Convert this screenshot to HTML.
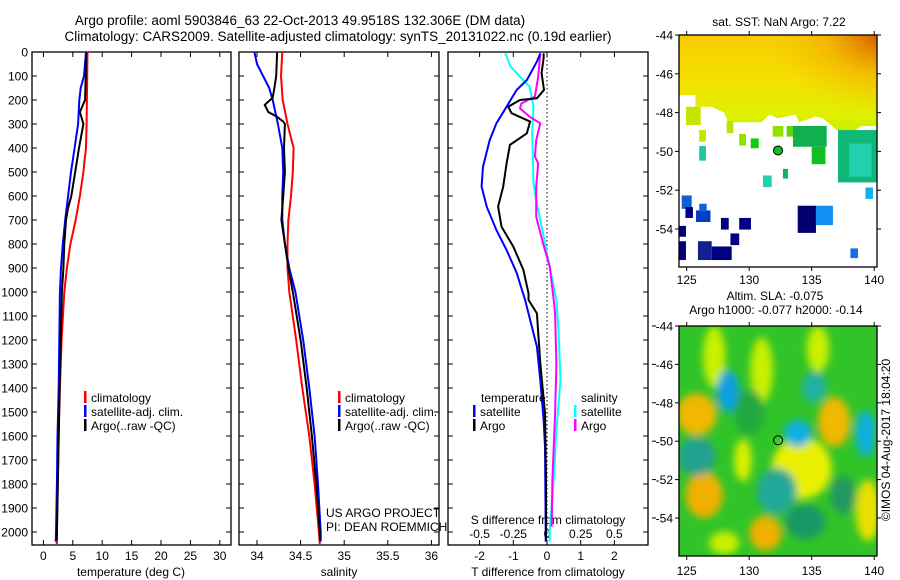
<!DOCTYPE html>
<html><head><meta charset="utf-8"><style>
html,body{margin:0;padding:0;background:#fff}
svg{display:block}
text{font-family:"Liberation Sans",sans-serif;font-size:12px;fill:#000}
</style></head><body>
<svg id="fig" width="900" height="580" viewBox="0 0 900 580" xmlns="http://www.w3.org/2000/svg">
<defs>
<clipPath id="clipP1"><rect x="32" y="52" width="199" height="493"/></clipPath>
<clipPath id="clipP2"><rect x="239" y="52" width="200" height="493"/></clipPath>
<clipPath id="clipP3"><rect x="448" y="52" width="200" height="493"/></clipPath>
<clipPath id="clipM1"><rect x="679" y="35" width="198" height="232"/></clipPath>
<clipPath id="clipM2"><rect x="679" y="326" width="198" height="230"/></clipPath>
<linearGradient id="sstGrad" x1="0" y1="0" x2="0" y2="1">
<stop offset="0" stop-color="#f8c800"/><stop offset="0.45" stop-color="#f4e000"/><stop offset="0.8" stop-color="#e0f000"/><stop offset="1" stop-color="#c8f000"/></linearGradient>
<radialGradient id="orangeCorner" cx="1" cy="0" r="0.9"><stop offset="0" stop-color="#d85000" stop-opacity="0.95"/><stop offset="0.5" stop-color="#f0a000" stop-opacity="0.5"/><stop offset="1" stop-color="#f0c000" stop-opacity="0"/></radialGradient>
<filter id="blur" x="-50%" y="-50%" width="200%" height="200%"><feGaussianBlur stdDeviation="4"/></filter>
</defs>
<text x="300" y="25" text-anchor="middle" style="font-size:13.5px">Argo profile: aoml 5903846_63 22-Oct-2013 49.9518S 132.306E (DM data)</text>
<text x="338" y="41" text-anchor="middle" style="font-size:13.5px">Climatology: CARS2009. Satellite-adjusted climatology: synTS_20131022.nc (0.19d earlier)</text>
<g id="layer"></g>
</svg>
<script>
// ---- data ----
const depthTicks=[0,100,200,300,400,500,600,700,800,900,1000,1100,1200,1300,1400,1500,1600,1700,1800,1900,2000];
const tempTicks=[0,5,10,15,20,25,30];
const salTicks=[34,34.5,35,35.5,36];
const dTTicks=[-2,-1,0,1,2];
const dSTicks=[-0.5,-0.25,0,0.25,0.5];
const dSTickLabels=["-0.5","-0.25","0","0.25","0.5"];

const tClimDepth=[0,100,200,300,400,450,500,600,700,800,900,1000,1200,1400,1600,1800,2000,2050];
const tClimVal=[7.5,7.45,7.4,7.35,7.25,7.0,6.8,6.2,5.5,4.6,4.0,3.55,3.1,2.8,2.6,2.45,2.3,2.28];
const tSatDepth=[0,100,150,200,300,400,500,600,700,800,900,1000,1200,1400,1600,1800,2000,2040];
const tSatVal=[7.25,6.9,6.35,6.1,5.9,5.3,4.7,4.2,3.7,3.3,3.0,2.8,2.7,2.6,2.4,2.3,2.15,2.1];
const tArgoDepth=[3,100,200,210,250,300,400,500,600,650,700,800,900,1000,1200,1400,1600,1800,2000,2035];
const tArgoVal=[7.3,7.2,7.1,6.9,6.2,6.8,6.05,5.4,4.75,4.2,3.85,3.55,3.4,3.15,2.95,2.75,2.6,2.45,2.3,2.28];

const sClimDepth=[0,100,200,300,400,500,600,700,800,900,1000,1200,1400,1600,1800,2000,2050];
const sClimVal=[34.29,34.275,34.295,34.35,34.42,34.41,34.39,34.36,34.35,34.35,34.37,34.45,34.52,34.6,34.66,34.71,34.72];
const sSatDepth=[0,50,100,150,200,300,400,500,600,700,800,900,1000,1200,1400,1600,1800,2000,2040];
const sSatVal=[33.97,34.0,34.07,34.14,34.18,34.24,34.29,34.3,34.29,34.29,34.32,34.37,34.44,34.53,34.6,34.66,34.7,34.73,34.73];
const sArgoDepth=[3,100,150,190,220,250,270,290,300,400,500,600,700,800,900,1000,1200,1400,1600,1800,2000,2035];
const sArgoVal=[34.23,34.22,34.2,34.18,34.09,34.13,34.23,34.3,34.32,34.31,34.32,34.3,34.28,34.32,34.36,34.41,34.5,34.57,34.63,34.68,34.72,34.72];

const dTSatDepth=[5,40,117,158,228,297,367,478,561,644,742,825,921,1033,1061,1228,1367,1533,1644,1992,2040];
const dTSatVal=[-0.2,-0.3,-0.6,-0.9,-1.2,-1.5,-1.7,-1.9,-1.94,-1.79,-1.5,-1.2,-0.9,-0.65,-0.6,-0.3,-0.2,-0.1,-0.06,-0.04,-0.04];
const dTArgoDepth=[5,26,88,158,193,200,228,255,290,339,387,464,561,644,728,811,908,1005,1033,1089,1297,1504,1783,1992,2035];
const dTArgoVal=[-0.1,-0.1,-0.16,-0.09,-0.3,-0.8,-1.15,-1.05,-0.5,-0.6,-1.1,-1.2,-1.3,-1.45,-1.35,-1.0,-0.7,-0.55,-0.55,-0.3,-0.2,-0.06,-0.03,-0.03,-0.03];
const dSSatDepth=[5,61,103,144,228,339,547,617,755,894,1033,1158,1367,1575,1783,1992,2040];
const dSSatVal=[-0.31,-0.27,-0.2,-0.13,-0.1,-0.11,-0.1,-0.08,-0.03,0.02,0.07,0.085,0.1,0.07,0.05,0.02,0.02];
const dSArgoDepth=[8,103,186,214,235,269,297,367,436,464,561,686,797,894,1033,1089,1297,1504,1783,1978];
const dSArgoVal=[-0.05,-0.065,-0.09,-0.19,-0.2,-0.13,-0.05,-0.08,-0.09,-0.065,-0.08,-0.08,-0.03,0.02,0.05,0.06,0.07,0.06,0.04,0.035];

const mapLonTicks=[125,130,135,140];
const mapLatTicks=[-44,-46,-48,-50,-52,-54];
const argoLon=132.306, argoLat=-49.9518;
const sstEdgeLon=[124.4,125.7,125.7,127,128,128.3,131,131.6,132.3,133.7,134,135.3,135.9,137,138,139,140.2];
const sstEdgeLat=[-47.1,-47.1,-47.7,-47.7,-48,-48.5,-48.5,-48.1,-48.3,-48.1,-48.5,-48.2,-48.3,-48.9,-49.1,-48.7,-48.7];
const sstPatchLon0=[124.94,126.0,126.0,128.2,129.2,130.12,131.88,133.0,133.5,135.0,137.1,138.0,132.7,131.1,139.3,124.6,124.9,125.74,126.0,127.74,129.2,124.4,128.5,124.4,125.9,127.0,133.88,135.34,138.1];
const sstPatchLat0=[-47.7,-48.9,-49.72,-48.44,-49.1,-49.33,-48.69,-48.69,-48.69,-49.76,-48.9,-49.6,-50.9,-51.24,-51.86,-52.27,-52.87,-53.04,-52.7,-53.43,-53.43,-53.84,-54.23,-54.63,-54.63,-54.9,-52.8,-52.8,-55.0];
const sstPatchLon1=[126.12,126.54,126.54,128.73,129.74,130.76,132.73,133.6,136.2,136.1,140.2,139.8,133.1,131.8,139.9,125.4,125.5,126.9,126.6,128.36,130.14,124.94,129.2,124.94,127.0,128.6,135.34,136.7,138.7];
const sstPatchLat1=[-48.64,-49.5,-50.48,-49.06,-49.7,-49.84,-49.24,-49.24,-49.76,-50.66,-51.6,-51.3,-51.4,-51.84,-52.45,-52.96,-53.43,-53.64,-53.1,-54.03,-54.03,-54.4,-54.83,-55.6,-55.6,-55.6,-54.2,-53.8,-55.5];
const sstPatchCol=["#c8e400","#c8e400","#20c8a0","#b8e400","#90e000","#10cc10","#90e000","#60d800","#10b050","#10c020","#10b878","#20d0b0","#10b060","#20d0b0","#10b0f0","#1060d0","#000080","#0040c0","#1060e0","#000080","#000080","#000080","#000080","#000080","#102090","#000080","#000070","#1090f0","#1070e0"];
const slaLon=[127.2,131.0,135.5,129.5,125.8,126.4,131.3,136.8,134.2,139.5,128.3,133.9,139.3,135.2,132.2,125.8,134.5,130,137.5,128];
const slaLat=[-45.6,-46.3,-45.2,-51.0,-48.6,-52.8,-54.8,-49.0,-51.4,-53.6,-47.4,-49.6,-49.6,-47.2,-52.6,-50.8,-54.2,-48.5,-52.8,-55.3];
const slaRx=[0.9,0.9,0.9,0.7,1.6,1.5,1.3,1.3,2.4,1.0,0.9,1.1,0.8,1.0,1.6,1.5,1.6,1.2,1.0,1.2];
const slaRy=[1.6,1.7,1.2,1.1,1.1,1.2,0.9,1.3,1.6,1.6,1.1,0.7,1.2,0.8,1.2,1.0,0.9,1.2,1.0,0.6];
const slaCol=["#c8f000","#c8f000","#c8f000","#d8f000","#f0b800","#f0b000","#f0b000","#f0b800","#e8f000","#e8e000","#10a0e0","#10b0e0","#10b0e0","#20b0a0","#20a898","#20a090","#189868","#20a840","#209860","#c8f000"];

// ---- scales ----
const yD=d=>52+d*0.24;
const xT=t=>43.4+t*5.88;
const xS=s=>257+(s-34)*87.2;
const xDT=v=>547+v*33.7;
const xDS=v=>547+v*134.8;
const m1x=lon=>686.7+(lon-125)*12.5, m1y=lat=>35+(-44-lat)*19.4;
const m2x=lon=>686.7+(lon-125)*12.5, m2y=lat=>326+(-44-lat)*19.2;

const NS="http://www.w3.org/2000/svg";
const layer=document.getElementById('layer');
function mk(tag,attrs,parent){const e=document.createElementNS(NS,tag);for(const k in attrs)e.setAttribute(k,attrs[k]);(parent||layer).appendChild(e);return e;}
function txt(x,y,s,anchor,parent){const t=mk('text',{x:x,y:y,'text-anchor':anchor||'start'},parent);t.textContent=s;return t;}

function line(depths,vals,xf,col,clip,name){
  const pts=depths.map((d,i)=>xf(vals[i]).toFixed(1)+','+yD(d).toFixed(1)).join(' ');
  const p=mk('polyline',{points:pts,fill:'none',stroke:col,'stroke-width':2,'clip-path':'url(#'+clip+')'});
  
  
}
function panel(x0,x1,name){
  const r=mk('rect',{x:x0,y:52,width:x1-x0,height:493,fill:'none',stroke:'#000','stroke-width':1.3});
  
  
  depthTicks.forEach(d=>{mk('line',{x1:x0,x2:x0+5,y1:yD(d),y2:yD(d),stroke:'#000'});mk('line',{x1:x1,x2:x1-5,y1:yD(d),y2:yD(d),stroke:'#000'});});
}
panel(32,231,'temperature-panel');
depthTicks.forEach(d=>{const t=txt(28,yD(d)+4.5,String(d),'end');});
tempTicks.forEach(v=>{mk('line',{x1:xT(v),x2:xT(v),y1:52,y2:57,stroke:'#000'});mk('line',{x1:xT(v),x2:xT(v),y1:545,y2:540,stroke:'#000'});
 const t=txt(xT(v),560,String(v),'middle');});
let xl=txt(131,576,'temperature (deg C)','middle');
line(tClimDepth,tClimVal,xT,'#ff0000','clipP1','temp-climatology-line');
line(tSatDepth,tSatVal,xT,'#0000ff','clipP1','temp-satellite-line');
line(tArgoDepth,tArgoVal,xT,'#000000','clipP1','temp-argo-line');
panel(239,439,'salinity-panel');
salTicks.forEach(v=>{mk('line',{x1:xS(v),x2:xS(v),y1:52,y2:57,stroke:'#000'});mk('line',{x1:xS(v),x2:xS(v),y1:545,y2:540,stroke:'#000'});
 const t=txt(xS(v),560,String(v),'middle');});
xl=txt(339,576,'salinity','middle');
line(sClimDepth,sClimVal,xS,'#ff0000','clipP2','sal-climatology-line');
line(sSatDepth,sSatVal,xS,'#0000ff','clipP2','sal-satellite-line');
line(sArgoDepth,sArgoVal,xS,'#000000','clipP2','sal-argo-line');
panel(448,648,'difference-panel');
mk('line',{x1:547,x2:547,y1:52,y2:545,stroke:'#000','stroke-dasharray':'1.5,2.5','stroke-width':1});
dTTicks.forEach(v=>{mk('line',{x1:xDT(v),x2:xDT(v),y1:52,y2:57,stroke:'#000'});mk('line',{x1:xDT(v),x2:xDT(v),y1:545,y2:540,stroke:'#000'});
 const t=txt(xDT(v),560,String(v),'middle');});
dSTicks.forEach((v,i)=>{const t=txt(xDS(v),538,dSTickLabels[i],'middle');});
xl=txt(548,524,'S difference from climatology','middle');
xl=txt(548,576,'T difference from climatology','middle');
line(dSSatDepth,dSSatVal,xDS,'#00ffff','clipP3','dS-satellite-line');
line(dSArgoDepth,dSArgoVal,xDS,'#ff00ff','clipP3','dS-argo-line');
line(dTSatDepth,dTSatVal,xDT,'#0000ff','clipP3','dT-satellite-line');
line(dTArgoDepth,dTArgoVal,xDT,'#000000','clipP3','dT-argo-line');
function leg(x,y,col,label){const g=mk('g',{});
 mk('rect',{x:x,y:y-11,width:2.5,height:12,fill:col},g);txt(x+7,y,label,'start',g);}
leg(84,402,'#ff0000','climatology');leg(84,416,'#0000ff','satellite-adj. clim.');leg(84,430,'#000000','Argo(..raw -QC)');
leg(338,402,'#ff0000','climatology');leg(338,416,'#0000ff','satellite-adj. clim.');leg(338,430,'#000000','Argo(..raw -QC)');
xl=txt(481,402,'temperature');
xl=txt(581,402,'salinity');
leg(473,416,'#0000ff','satellite');leg(473,430,'#000000','Argo');
leg(574,416,'#00ffff','satellite');leg(574,430,'#ff00ff','Argo');
xl=txt(326,517,'US ARGO PROJECT');
xl=txt(326,531,'PI: DEAN ROEMMICH');

// ---- SST map ----
const g1=mk('g',{'clip-path':'url(#clipM1)'});


let poly=[[124.3,-43.9],[140.3,-43.9]];
for(let i=sstEdgeLon.length-1;i>=0;i--)poly.push([sstEdgeLon[i],sstEdgeLat[i]]);
mk('polygon',{points:poly.map(p=>m1x(p[0])+','+m1y(p[1])).join(' '),fill:'url(#sstGrad)'},g1);
mk('rect',{x:760,y:35,width:120,height:90,fill:'url(#orangeCorner)'},g1);
sstPatchLon0.forEach((l,i)=>{const r=mk('rect',{x:m1x(l),y:m1y(sstPatchLat0[i]),width:m1x(sstPatchLon1[i])-m1x(l),height:m1y(sstPatchLat1[i])-m1y(sstPatchLat0[i]),fill:sstPatchCol[i]},g1);
 });
mk('circle',{cx:m1x(argoLon),cy:m1y(argoLat),r:4.5,fill:'#10c020',stroke:'#000','stroke-width':1},g1);
function mapAxes(xf,yf,y0,y1,labY,name){
  const r=mk('rect',{x:679,y:y0,width:198,height:y1-y0,fill:'none',stroke:'#000','stroke-width':1.3});
  
  mapLonTicks.forEach(l=>{mk('line',{x1:xf(l),x2:xf(l),y1:y0,y2:y0-4,stroke:'#000'});mk('line',{x1:xf(l),x2:xf(l),y1:y1,y2:y1+4,stroke:'#000'});
   const t=txt(xf(l),labY,String(l),'middle');});
  mapLatTicks.forEach(l=>{mk('line',{x1:679,x2:675,y1:yf(l),y2:yf(l),stroke:'#000'});mk('line',{x1:877,x2:881,y1:yf(l),y2:yf(l),stroke:'#000'});
   const t=txt(673,yf(l)+4.5,String(l),'end');});
}
mapAxes(m1x,m1y,35,267,284,'sst-map-frame');
xl=txt(779,26,'sat. SST: NaN Argo: 7.22','middle');

// ---- SLA map ----
const g2=mk('g',{'clip-path':'url(#clipM2)'});


mk('rect',{x:679,y:326,width:198,height:230,fill:'#30c428'},g2);
const gb=mk('g',{filter:'url(#blur)'},g2);
slaLon.forEach((l,i)=>{const e=mk('ellipse',{cx:m2x(l),cy:m2y(slaLat[i]),rx:slaRx[i]*12.5,ry:slaRy[i]*19.2,fill:slaCol[i]},gb);
 });
mk('circle',{cx:m2x(argoLon),cy:m2y(argoLat),r:4.5,fill:'none',stroke:'#000','stroke-width':1},g2);
mapAxes(m2x,m2y,326,556,575,'sla-map-frame');
xl=txt(775,300,'Altim. SLA: -0.075','middle');
xl=txt(776,314,'Argo h1000: -0.077 h2000: -0.14','middle');
mapLatTicks.forEach(l=>mk('line',{x1:652,x2:656,y1:m2y(l),y2:m2y(l),stroke:'#000'}));
xl=txt(0,0,'©IMOS 04-Aug-2017 18:04:20','middle');xl.setAttribute('transform','translate(890,440) rotate(-90)');

</script>
</body></html>
